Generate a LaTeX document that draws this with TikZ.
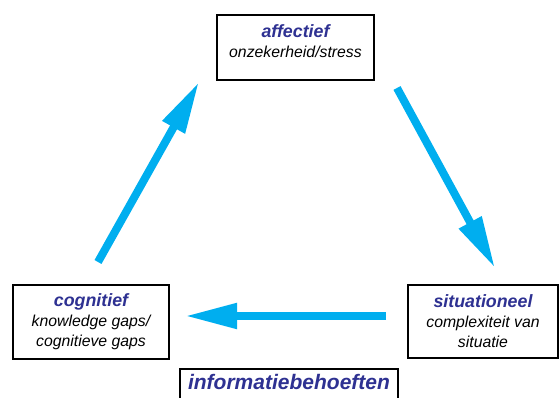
\documentclass[tikz,border=0pt]{standalone}
\usepackage{fontspec}
\setmainfont{Liberation Sans}
\usetikzlibrary{arrows.meta}
\definecolor{flow}{HTML}{00AEEF}
\definecolor{heading}{HTML}{2E3192}
\begin{document}
\begin{tikzpicture}[x=1pt,y=-1pt,
  box/.style={draw=black, line width=1.8pt, fill=white, align=center,
    inner sep=0pt, font=\itshape\fontsize{15.8}{20}\selectfont},
  boxtext/.style={align=center, inner sep=0pt,
    font=\itshape\fontsize{15.8}{20}\selectfont},
  ttl/.style={font=\bfseries\itshape\fontsize{21}{24}\selectfont, text=heading},
  flowarrow/.style={draw=flow, line width=8pt,
    -{Triangle[length=52pt,width=24pt]}},
]
\useasboundingbox (0,0) rectangle (560,398);

% the three states
\node[box, minimum width=157pt, minimum height=65pt] (aff) at (295.5,47.5) {};
\node[boxtext] (afftext) at (295.5,41)
  {{\bfseries\fontsize{17.8}{20}\selectfont\color{heading}affectief}\\onzekerheid/stress};
\node[box, minimum width=156pt, minimum height=74pt] (cog) at (91,322)
  {{\bfseries\fontsize{17.8}{20}\selectfont\color{heading}cognitief}\\knowledge gaps/\\cognitieve gaps};
\node[box, minimum width=150pt, minimum height=73pt] (sit) at (483,321.5)
  {{\bfseries\fontsize{17.8}{20}\selectfont\color{heading}situationeel}\\complexiteit van\\situatie};

% caption box, cut off by the lower page edge
\node[box, minimum width=218pt, minimum height=40pt, anchor=north] (info) at (289,368)
  {};
\node[ttl, anchor=base] (infolabel) at (289,389)
  {informatiebehoeften};

% arrow end points
\coordinate (c1) at (98,262);
\coordinate (a1) at (199,82);
\coordinate (a2) at (397,88);
\coordinate (s1) at (495,268);
\coordinate (s2) at (386,316);
\coordinate (c2) at (185,316);

% cycle arrows
\draw[flowarrow] (c1) -- (a1);
\draw[flowarrow] (a2) -- (s1);
\draw[flowarrow] (s2) -- (c2);
\end{tikzpicture}
\end{document}
